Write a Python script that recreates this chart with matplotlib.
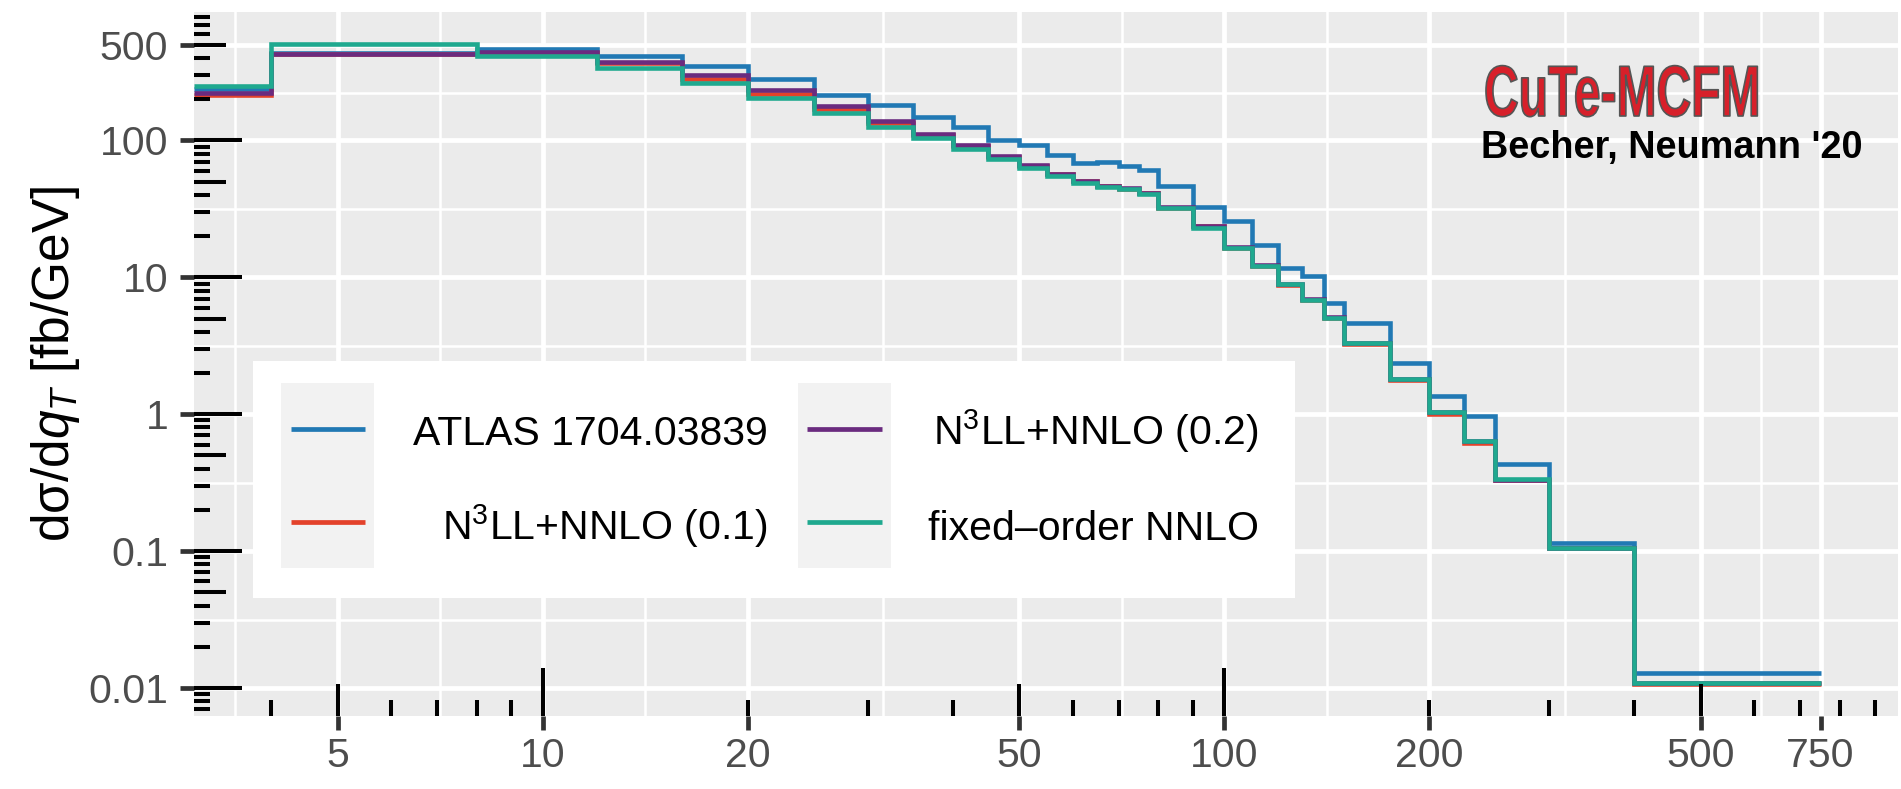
import numpy as np
import matplotlib
matplotlib.use("Agg")
import matplotlib.pyplot as plt
import matplotlib.patheffects as pe
import matplotlib.transforms as mtransforms
from matplotlib.patches import Rectangle
from matplotlib.lines import Line2D
from matplotlib.ticker import NullFormatter

# q_T bin edges (GeV); first bin starts at 0 and is drawn from the panel edge
qt_edges = [0, 4, 8, 12, 16, 20, 25, 30, 35, 40, 45, 50, 55, 60, 65, 70, 75,
            80, 90, 100, 110, 120, 130, 140, 150, 175, 200, 225, 250, 300, 400, 750]

atlas = [237, 432, 467, 416, 347, 282, 214, 181, 148, 126, 101, 91.9, 78.5,
         68.2, 69.4, 65.2, 60.3, 46.1, 32.9, 25.6, 17.1, 11.6, 10.3, 6.47,
         4.62, 2.36, 1.36, 0.975, 0.432, 0.114, 0.0128]
n3ll_01 = [213, 425, 435, 367, 282, 218, 169, 135, 110, 90.3, 75.5, 65.2, 56.8,
           50.2, 46.1, 44.5, 41.4, 32.3, 23.8, 16.5, 12.1, 8.85, 6.8, 5.05,
           3.28, 1.79, 1.01, 0.62, 0.33, 0.105, 0.0107]
n3ll_02 = [222, 427, 440, 373, 302, 234, 179, 139, 111, 91.9, 76.3, 65.6, 57.0,
           50.7, 46.6, 44.8, 41.6, 32.5, 23.6, 16.6, 12.2, 9.0, 6.9, 5.1,
           3.32, 1.81, 1.03, 0.635, 0.333, 0.106, 0.0108]
fixed_nnlo = [251, 506, 413, 338, 262, 204, 158, 126, 105, 86.9, 73.0, 62.7, 55.4,
              48.7, 45.3, 44.3, 40.5, 32.0, 22.8, 16.3, 12.0, 8.9, 6.85, 5.08,
              3.30, 1.80, 1.04, 0.637, 0.334, 0.106, 0.0108]

labels = ["ATLAS 1704.03839", "N$^3$LL+NNLO (0.1)",
          "N$^3$LL+NNLO (0.2)", "fixed\u2013order NNLO"]
colors = ["#2179B4", "#E3422B", "#6A2B7F", "#1FA98F"]

x_breaks = [5, 10, 20, 50, 100, 200, 500, 750]
x_labels = ["5", "10", "20", "50", "100", "200", "500", "750"]
y_breaks = [0.01, 0.1, 1, 10, 100, 500]
y_labels = ["0.01", "0.1", "1", "10", "100", "500"]

W, H = 1901, 789
plt.rcParams["font.family"] = ["Liberation Sans", "DejaVu Sans"]
plt.rcParams["mathtext.fontset"] = "custom"
plt.rcParams["mathtext.rm"] = "Liberation Sans"
plt.rcParams["mathtext.it"] = "Liberation Sans:italic"
plt.rcParams["mathtext.bf"] = "Liberation Sans:bold"


class CondensedOutline(pe.AbstractPathEffect):
    """Squeeze text horizontally around its origin and give it an outline."""

    def __init__(self, sx, lw, edge):
        super().__init__()
        self.sx, self.lw, self.edge = sx, lw, edge

    def draw_path(self, renderer, gc, tpath, affine, rgbFace=None):
        aff = mtransforms.Affine2D().scale(self.sx, 1.0) + affine
        gc0 = renderer.new_gc()
        gc0.copy_properties(gc)
        gc0.set_linewidth(self.lw)
        gc0.set_foreground(self.edge)
        renderer.draw_path(gc0, tpath, aff, rgbFace)
        gc0.restore()


def expand_log(lo, hi, frac=0.05):
    a, b = np.log10(lo), np.log10(hi)
    d = (b - a) * frac
    return 10 ** (a - d), 10 ** (b + d)


def minor_breaks(breaks):
    # midpoints between breaks in log space, like ggplot's regular_minor_breaks
    lb = np.log10(breaks)
    bd = lb[1] - lb[0]
    ext = np.concatenate([[lb[0] - bd], lb, [lb[-1] + bd]])
    return 10 ** ((ext[:-1] + ext[1:]) / 2)


def fx(px):
    return px / W


def fy(py):
    return 1 - py / H


def main():
    data = [atlas, n3ll_01, n3ll_02, fixed_nnlo]
    xlim = expand_log(qt_edges[1], qt_edges[-1])
    vals = np.concatenate([np.array(d) for d in data])
    ylim = expand_log(vals.min(), vals.max())

    fig = plt.figure(figsize=(W / 100, H / 100), dpi=100)
    ax_l, ax_r, ax_t, ax_b = 194, 1898, 12, 716
    ax = fig.add_axes([fx(ax_l), fy(ax_b), (ax_r - ax_l) / W, (ax_b - ax_t) / H])
    ax.set_facecolor("#EBEBEB")
    for s in ax.spines.values():
        s.set_visible(False)

    edges = np.array(qt_edges, dtype=float)
    edges[0] = xlim[0]
    for vals_i, col in zip(data, colors):
        ax.stairs(vals_i, edges, baseline=None, color=col, linewidth=3.3,
                  joinstyle="miter", capstyle="butt", zorder=3)

    ax.set_xscale("log")
    ax.set_yscale("log")
    ax.set_xticks(x_breaks, x_labels)
    ax.set_yticks(y_breaks, y_labels)
    ax.set_xticks(minor_breaks(x_breaks), minor=True)
    ax.set_yticks(minor_breaks(y_breaks), minor=True)
    ax.xaxis.set_minor_formatter(NullFormatter())
    ax.yaxis.set_minor_formatter(NullFormatter())
    ax.set_axisbelow(True)
    ax.grid(which="major", color="white", linewidth=3.4)
    ax.grid(which="minor", color="white", linewidth=1.8)
    ax.tick_params(which="minor", length=0)
    ax.tick_params(which="major", direction="out", length=10, width=3.4,
                   color="#333333", labelsize=29.5, labelcolor="#4D4D4D")
    ax.tick_params(axis="x", pad=5)
    ax.tick_params(axis="y", pad=8.6)

    # log ticks (annotation_logticks style)
    pw, ph = ax_r - ax_l, ax_b - ax_t
    by = mtransforms.blended_transform_factory(ax.transAxes, ax.transData)
    bx = mtransforms.blended_transform_factory(ax.transData, ax.transAxes)
    for d in range(-3, 4):
        for k in range(1, 10):
            v = k * 10.0 ** d
            L = 48 if k == 1 else (32 if k == 5 else 16)
            if ylim[0] <= v <= ylim[1]:
                ax.plot([0, L / pw], [v, v], transform=by, color="black",
                        lw=2.9, solid_capstyle="butt", zorder=5, clip_on=False)
            if xlim[0] <= v <= xlim[1]:
                ax.plot([v, v], [0, L / ph], transform=bx, color="black",
                        lw=2.9, solid_capstyle="butt", zorder=5, clip_on=False)

    ax.set_xlim(xlim)
    ax.set_ylim(ylim)

    fig.text(fx(56), fy(364), "d\u03c3/d$q_T$ [fb/GeV]", rotation=90,
             ha="center", va="center", fontsize=37, color="black")

    # legend
    fig.add_artist(Rectangle((fx(252.5), fy(598)), (1295 - 252.5) / W, (598 - 361) / H,
                             transform=fig.transFigure, facecolor="white",
                             edgecolor="none", zorder=6))
    key_x = [(281, 374), (798, 891)]
    line_x = [(291, 365), (807, 882)]
    text_r = [768, 1259]
    row_y = [429, 522]
    row_base = [445, 540]
    for c in range(2):
        fig.add_artist(Rectangle((fx(key_x[c][0]), fy(568)),
                                 (key_x[c][1] - key_x[c][0]) / W, (568 - 383) / H,
                                 transform=fig.transFigure, facecolor="#F2F2F2",
                                 edgecolor="none", zorder=7))
        for r in range(2):
            i = c * 2 + r
            fig.add_artist(Line2D([fx(line_x[c][0]), fx(line_x[c][1])],
                                  [fy(row_y[r]), fy(row_y[r])],
                                  transform=fig.transFigure, color=colors[i],
                                  lw=3.4, solid_capstyle="butt", zorder=8))
            fig.text(fx(text_r[c]), fy(row_base[r]), labels[i], ha="right",
                     va="baseline", fontsize=29.5, color="black", zorder=8)

    # logo
    fig.text(fx(1484), fy(116), "CuTe-MCFM", ha="left", va="baseline",
             fontsize=52, fontweight="bold", color="#D7202A",
             path_effects=[CondensedOutline(0.665, 1.2, "#555555")])
    fig.text(fx(1481), fy(158), "Becher, Neumann '20", ha="left", va="baseline",
             fontsize=27.3, fontweight="bold", color="black")

    fig.savefig("out.png", dpi=100)


if __name__ == "__main__":
    main()
